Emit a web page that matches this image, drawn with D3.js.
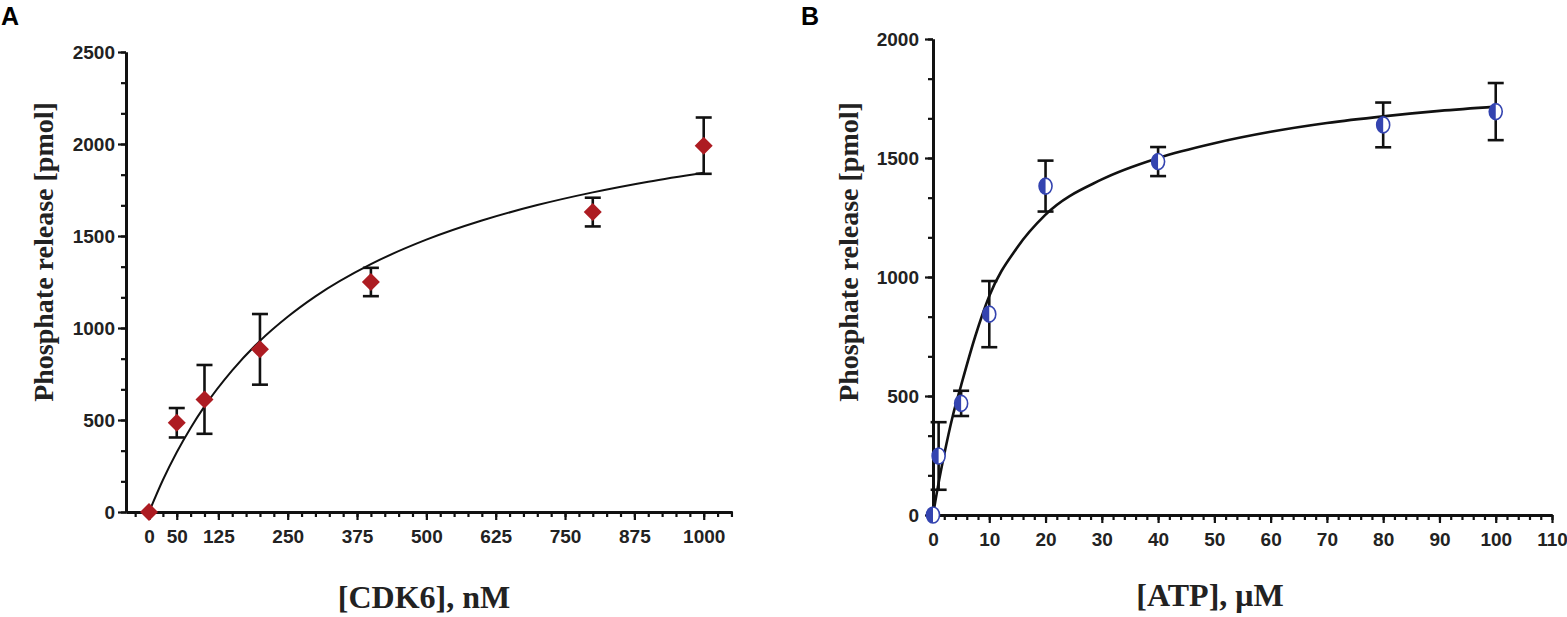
<!DOCTYPE html>
<html>
<head>
<meta charset="utf-8">
<script src="https://d3js.org/d3.v7.min.js"></script>
<style>
  body { margin: 0; background: #fff; }
  svg { display: block; }
  .tick text { font-family: "Liberation Sans", Arial, sans-serif; font-weight: bold; font-size: 19px; fill: #222; }
  .title { font-family: "Liberation Serif", "Times New Roman", serif; font-weight: bold; fill: #222; }
  .panel { font-family: "Liberation Sans", Arial, sans-serif; font-weight: bold; font-size: 25px; fill: #000; }
</style>
</head>
<body>
<svg id="chart" width="1567" height="617"></svg>
<script>
// ---- panel A : CDK6 titration ----
var cdkX = [0, 50, 100, 200, 400, 800, 1000];
var cdkY = [0, 485, 612, 884, 1250, 1630, 1991];
var cdkErr = [0, 80, 187, 192, 77, 78, 153];

// fitted curve
var cdkFitX = [0, 25, 50, 75, 100, 150, 200, 250, 300, 400, 500, 600, 700, 800, 900, 1000];
var cdkFitY = [0, 174, 325, 457, 574, 770, 930, 1061, 1172, 1347, 1480, 1584, 1668, 1737, 1795, 1844];

var cdkXTicks = [0, 50, 125, 250, 375, 500, 625, 750, 875, 1000];
var cdkYTicks = [0, 500, 1000, 1500, 2000, 2500];

// ---- panel B : ATP titration ----
var atpX = [0, 1, 5, 10, 20, 40, 80, 100];
var atpY = [0, 248, 469, 844, 1382, 1485, 1639, 1695];
var atpErr = [0, 142, 53, 139, 107, 61, 94, 120];

var atpFitX = [0, 1, 2, 3.5, 5, 7.5, 10, 15, 20, 30, 40, 50, 60, 70, 80, 90, 100];
var atpFitY = [0, 135, 255, 415, 545, 750, 920, 1125, 1262, 1410, 1500, 1562, 1610, 1647, 1675, 1698, 1716];

var atpXTicks = [0, 10, 20, 30, 40, 50, 60, 70, 80, 90, 100, 110];
var atpYTicks = [0, 500, 1000, 1500, 2000];

var svg = d3.select("#chart");
var fmt = d3.format("d");

function drawAxes(g, x, y, xMajor, xMinor, yMajor, yMinor, xPad, yPad) {

    // minor ticks first, then the labelled ones
    g.append("g")
        .attr("transform", "translate(0," + y.range()[0] + ")")
        .call(d3.axisBottom(x).tickValues(xMinor).tickFormat("").tickSize(5).tickSizeOuter(0));
    g.append("g")
        .attr("transform", "translate(" + x.range()[0] + ",0)")
        .call(d3.axisLeft(y).tickValues(yMinor).tickFormat("").tickSize(5).tickSizeOuter(0));

    g.append("g")
        .attr("transform", "translate(0," + y.range()[0] + ")")
        .call(d3.axisBottom(x).tickValues(xMajor).tickFormat(fmt).tickSize(8).tickPadding(xPad).tickSizeOuter(0));
    g.append("g")
        .attr("transform", "translate(" + x.range()[0] + ",0)")
        .call(d3.axisLeft(y).tickValues(yMajor).tickFormat(fmt).tickSize(8).tickPadding(yPad).tickSizeOuter(0));

    g.selectAll(".domain").attr("stroke", "#111").attr("stroke-width", 3);
    g.selectAll(".tick line").attr("stroke", "#111").attr("stroke-width", 2.2);
}

function drawPoints(g, x, y, xs, ys, errs, curveX, curveY, curveWidth, marker) {

    var line = d3.line()
        .x(function (d) { return x(d[0]); })
        .y(function (d) { return y(d[1]); })
        .curve(d3.curveMonotoneX);

    g.append("path")
        .datum(d3.zip(curveX, curveY))
        .attr("d", line)
        .attr("fill", "none")
        .attr("stroke", "#111")
        .attr("stroke-width", curveWidth);

    var pts = d3.zip(xs, ys, errs);

    var eb = g.append("g")
        .attr("stroke", "#111")
        .attr("stroke-width", 2.6)
        .selectAll("g")
        .data(pts.filter(function (d) { return d[2] > 0; }))
        .join("g");

    eb.append("line")
        .attr("x1", function (d) { return x(d[0]); })
        .attr("x2", function (d) { return x(d[0]); })
        .attr("y1", function (d) { return y(d[1] + d[2]); })
        .attr("y2", function (d) { return y(d[1] - d[2]); });
    [1, -1].forEach(function (s) {
        eb.append("line")
            .attr("x1", function (d) { return x(d[0]) - 8; })
            .attr("x2", function (d) { return x(d[0]) + 8; })
            .attr("y1", function (d) { return y(d[1] + s * d[2]); })
            .attr("y2", function (d) { return y(d[1] + s * d[2]); });
    });

    marker(g.append("g").selectAll("g").data(pts).join("g")
        .attr("transform", function (d) { return "translate(" + x(d[0]) + "," + y(d[1]) + ")"; }));
}

// ---------- A ----------
var xA = d3.scaleLinear().domain([-41.5, 1051]).range([126, 732]);
var yA = d3.scaleLinear().domain([0, 2500]).range([512, 52]);
var gA = svg.append("g");

drawAxes(gA, xA, yA,
    cdkXTicks, d3.range(-25, 1051, 25),
    cdkYTicks, d3.range(0, 2501, 500 / 3),
    10, 3);

drawPoints(gA, xA, yA, cdkX, cdkY, cdkErr, cdkFitX, cdkFitY, 2, function (sel) {
    sel.append("path")
        .attr("d", "M0,-9L9,0L0,9L-9,0Z")
        .attr("fill", "#ad1c22");
});

gA.append("text").attr("class", "title")
    .attr("transform", "translate(53,252) rotate(-90)")
    .attr("text-anchor", "middle")
    .style("font-size", "28px")
    .text("Phosphate release [pmol]");

gA.append("text").attr("class", "title")
    .attr("x", 424).attr("y", 608)
    .attr("text-anchor", "middle")
    .style("font-size", "32px")
    .text("[CDK6], nM");

gA.append("text").attr("class", "panel").attr("x", 1).attr("y", 25).text("A");

// ---------- B ----------
var xB = d3.scaleLinear().domain([0, 110]).range([933, 1552]);
var yB = d3.scaleLinear().domain([0, 2000]).range([515, 39]);
var gB = svg.append("g");

drawAxes(gB, xB, yB,
    atpXTicks, d3.range(0, 111, 2),
    atpYTicks, d3.range(0, 2001, 500 / 3),
    10, 6);

var halfLeft = d3.arc()({ innerRadius: 0, outerRadius: 6.5, startAngle: Math.PI, endAngle: 2 * Math.PI });

drawPoints(gB, xB, yB, atpX, atpY, atpErr, atpFitX, atpFitY, 2.6, function (sel) {
    sel.append("ellipse")
        .attr("rx", 6.5).attr("ry", 8)
        .attr("fill", "#fff")
        .attr("stroke", "#3444b0")
        .attr("stroke-width", 1.6);
    sel.append("path")
        .attr("d", halfLeft)
        .attr("transform", "scale(1," + (8 / 6.5) + ")")
        .attr("fill", "#3444b0");
});

gB.append("text").attr("class", "title")
    .attr("transform", "translate(858,252) rotate(-90)")
    .attr("text-anchor", "middle")
    .style("font-size", "28px")
    .text("Phosphate release [pmol]");

gB.append("text").attr("class", "title")
    .attr("x", 1210).attr("y", 606)
    .attr("text-anchor", "middle")
    .style("font-size", "32px")
    .text("[ATP], μM");

gB.append("text").attr("class", "panel").attr("x", 801).attr("y", 25).text("B");
</script>
</body>
</html>
